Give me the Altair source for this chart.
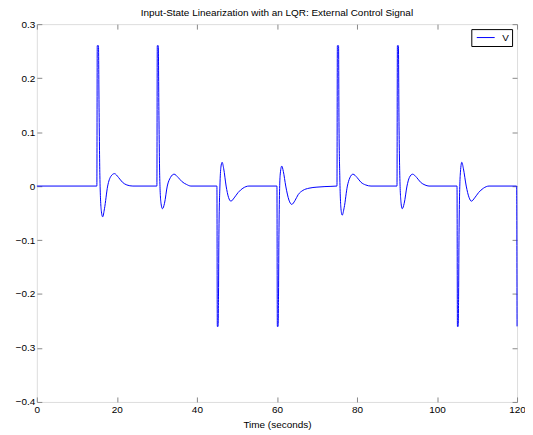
import altair as alt
import pandas as pd

# ---- data (time in s, control signal V) ----
t_seg0 = [0.0, 15.0]
v_seg0 = [0.0, 0.0]

t_seg15 = [15.1, 15.4, 15.55, 15.75, 16.1, 16.45, 16.9, 17.7, 18.5, 19.4, 20.4, 21.4, 22.5, 24.0, 30.0]
v_seg15 = [0.26, 0.26, 0.145, 0.02, -0.045, -0.057, -0.042, 0.0, 0.018, 0.023, 0.016, 0.007, 0.002, 0.0, 0.0]

t_seg30 = [30.1, 30.35, 30.5, 30.7, 31.0, 31.4, 31.9, 32.6, 33.4, 34.3, 35.3, 36.3, 37.4, 38.5, 45.0]
v_seg30 = [0.26, 0.26, 0.14, 0.02, -0.03, -0.042, -0.032, 0.0, 0.016, 0.022, 0.016, 0.008, 0.003, 0.0, 0.0]

t_seg45 = [45.1, 45.3, 45.4, 45.5, 45.75, 46.0, 46.3, 46.7, 47.3, 47.9, 48.5, 49.3, 50.3, 51.5, 53.0, 60.0]
v_seg45 = [-0.26, -0.26, -0.2, -0.09, 0.0, 0.035, 0.044, 0.032, 0.0, -0.021, -0.028, -0.022, -0.012, -0.004, 0.0, 0.0]

t_seg60 = [60.1, 60.3, 60.4, 60.5, 60.8, 61.2, 61.6, 62.2, 63.0, 63.7, 64.5, 65.3, 66.5, 68.0, 70.0, 72.0, 75.0]
v_seg60 = [-0.26, -0.26, -0.2, -0.09, 0.02, 0.037, 0.027, 0.0, -0.026, -0.034, -0.027, -0.016, -0.008, -0.004, -0.002, -0.001, 0.0]

t_seg75 = [75.1, 75.4, 75.5, 75.7, 76.0, 76.3, 76.8, 77.6, 78.2, 79.0, 80.0, 81.0, 82.2, 83.5, 90.0]
v_seg75 = [0.26, 0.26, 0.12, 0.02, -0.042, -0.054, -0.04, 0.0, 0.015, 0.022, 0.016, 0.007, 0.002, 0.0, 0.0]

t_seg90 = [90.1, 90.35, 90.5, 90.7, 91.0, 91.3, 91.8, 92.5, 93.1, 93.9, 94.9, 95.9, 97.0, 98.0, 105.0]
v_seg90 = [0.26, 0.26, 0.12, 0.02, -0.03, -0.042, -0.032, 0.0, 0.016, 0.022, 0.016, 0.007, 0.002, 0.0, 0.0]

t_seg105 = [105.1, 105.3, 105.4, 105.5, 105.8, 106.2, 106.6, 107.3, 108.0, 108.6, 109.4, 110.4, 111.6, 113.0, 119.9, 120.0]
v_seg105 = [-0.26, -0.26, -0.2, -0.09, 0.02, 0.044, 0.032, 0.0, -0.021, -0.028, -0.022, -0.012, -0.004, 0.0, 0.0, -0.26]

x_ticks = [0, 20, 40, 60, 80, 100, 120]
y_ticks = [-0.4, -0.3, -0.2, -0.1, 0, 0.1, 0.2, 0.3]
series_name = "V"
title_text = "Input-State Linearization with an LQR: External Control Signal"
x_title = "Time (seconds)"

times = t_seg0 + t_seg15 + t_seg30 + t_seg45 + t_seg60 + t_seg75 + t_seg90 + t_seg105
vals = v_seg0 + v_seg15 + v_seg30 + v_seg45 + v_seg60 + v_seg75 + v_seg90 + v_seg105

df = pd.DataFrame({"t": times, "v": vals, "idx": list(range(len(times))), "series": series_name})

FONT = "Liberation Sans"

xscale = alt.Scale(domain=[0, 120], nice=False, zero=False)
yscale = alt.Scale(domain=[-0.4, 0.3], nice=False, zero=False)

main = alt.Chart(df).mark_line(strokeWidth=1, interpolate="monotone").encode(
    x=alt.X("t:Q", scale=xscale,
            axis=alt.Axis(orient="bottom", values=x_ticks, offset=-5, tickSize=5,
                          domain=False, labelPadding=3, labelFlush=False,
                          title=x_title, titlePadding=5, titleFontWeight="normal",
                          titleFont=FONT, titleFontSize=10,
                          grid=False, format="d")),
    y=alt.Y("v:Q", scale=yscale,
            axis=alt.Axis(orient="left", values=y_ticks, offset=-5, tickSize=5,
                          domain=False, labelPadding=2, labelFlush=False,
                          title=None, grid=False, format=".1~f")),
    color=alt.Color("series:N", scale=alt.Scale(domain=[series_name], range=["#0000ff"]),
                    legend=alt.Legend(title=None, orient="top-right", offset=5,
                                      symbolType="M -0.6 0 L 3 0", symbolSize=100,
                                      symbolStrokeWidth=1, labelOffset=17,
                                      padding=3, strokeColor="black",
                                      fillColor="white", labelFontSize=10,
                                      labelFont=FONT, labelColor="black")),
    order="idx:Q",
)

mirror = alt.Chart(df).mark_line(opacity=0).encode(
    x=alt.X("t:Q", scale=xscale,
            axis=alt.Axis(orient="top", values=x_ticks, offset=-5, tickSize=5,
                          domain=False, labels=False, title=None, grid=False,
                          minExtent=0, maxExtent=0)),
    y=alt.Y("v:Q", scale=yscale,
            axis=alt.Axis(orient="right", values=y_ticks, offset=-5, tickSize=5,
                          domain=False, labels=False, title=None, grid=False,
                          minExtent=0, maxExtent=0)),
    order="idx:Q",
)

chart = alt.layer(main, mirror).resolve_axis(x="independent", y="independent").properties(
    width=483,
    height=380,
    title=alt.TitleParams(title_text, fontSize=10, font=FONT, fontWeight="normal",
                          color="black", offset=8, dy=7, anchor="middle"),
    autosize=alt.AutoSizeParams(type="none"),
    padding={"left": 29, "top": 15, "right": 8, "bottom": 28},
).configure_view(stroke="black", strokeWidth=1).configure_axis(
    labelFont=FONT, labelFontSize=10, labelColor="black", tickColor="black",
    titleFont=FONT, titleFontSize=10, titleFontWeight="normal", titleColor="black",
).configure(background="white")

chart.save("out.html", embed_options={"renderer": "svg", "actions": False})
